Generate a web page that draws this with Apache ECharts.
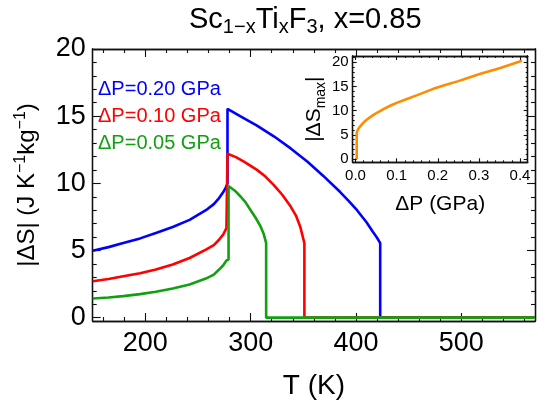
<!DOCTYPE html>
<html><head><meta charset="utf-8">
<script src="https://cdn.jsdelivr.net/npm/echarts@6/dist/echarts.min.js"></script>
<style>html,body{margin:0;padding:0;background:#fff}#c{width:539px;height:405px}</style>
</head><body><div id="c"></div>
<script>
const FONT = '"Liberation Sans", Arial, sans-serif';

// ---- tick labels ----
const T_ticks = [200, 300, 400, 500];
const S_ticks = [0, 5, 10, 15, 20];
const dP_ticks = [0, 0.1, 0.2, 0.3, 0.4];
const Smax_ticks = [0, 5, 10, 15, 20];

// ---- series: dP = 0.20 GPa (blue) ----
const T_020 = [150, 165, 179, 195, 210, 226, 242, 257.5, 265, 270, 274, 276.5, 278, 278, 290, 306, 322, 338, 354, 369, 385, 393, 401, 410, 416, 420, 423, 423, 570];
const S_020 = [4.98, 5.25, 5.55, 5.9, 6.3, 6.75, 7.28, 8.0, 8.45, 8.9, 9.35, 9.7, 10.0, 15.55, 15.0, 14.3, 13.5, 12.6, 11.6, 10.55, 9.35, 8.7, 8.0, 7.1, 6.4, 5.95, 5.55, 0, 0];

// ---- series: dP = 0.10 GPa (red) ----
const T_010 = [150, 165, 179, 195, 210, 226, 242, 257.5, 265, 270, 274, 277, 278, 278, 286, 294, 306, 314, 322, 330, 338, 343, 347, 351, 351, 570];
const S_010 = [2.71, 2.88, 3.08, 3.3, 3.58, 3.95, 4.44, 5.06, 5.4, 5.8, 6.2, 6.67, 6.8, 12.2, 11.95, 11.6, 11.0, 10.5, 9.87, 9.15, 8.27, 7.6, 6.79, 5.55, 0, 0];

// ---- series: dP = 0.05 GPa (green) ----
const T_005 = [150, 165, 179, 195, 210, 226, 242, 257.5, 265, 270, 274, 277, 279, 279, 285, 290.6, 295, 300, 305, 309.4, 312.5, 314.7, 314.7, 570];
const S_005 = [1.43, 1.5, 1.6, 1.75, 1.93, 2.17, 2.47, 2.91, 3.2, 3.58, 3.9, 4.25, 4.32, 9.8, 9.45, 9.0, 8.6, 8.0, 7.4, 6.79, 6.2, 5.55, 0, 0];

// ---- inset: |dS_max| vs dP ----
const dP_inset = [0.003, 0.003, 0.006, 0.011, 0.018, 0.027, 0.04, 0.052, 0.068, 0.084, 0.1, 0.125, 0.15, 0.189, 0.22, 0.25, 0.271, 0.3, 0.352, 0.405];
const Smax_inset = [0, 5.5, 6.1, 6.7, 7.4, 8.1, 8.9, 9.55, 10.3, 11.0, 11.6, 12.4, 13.2, 14.5, 15.35, 16.1, 16.7, 17.5, 18.8, 20.3];

// minor tick positions
const T_minor = []; for (let t = 160; t <= 560; t += 20) if (t % 100) T_minor.push(t);
const S_minor = []; for (let s = 1; s <= 19; s++) if (s % 5) S_minor.push(s);
const dP_minor = []; for (let i = 1; i <= 20; i++) if (i % 5) dP_minor.push(+(i * 0.02).toFixed(2));
const Smax_minor = []; for (let s = 1; s <= 21; s++) if (s % 5) Smax_minor.push(s);

const zip = (a, b) => a.map((v, i) => [v, b[i]]);
const AX = '#111';

function axis(grid, pos, min, max, ticks, len, labels, extra) {
  const o = {
    type: 'value', gridIndex: grid, position: pos, min: min, max: max,
    axisLine: { show: true, onZero: false, lineStyle: { color: AX, width: 1.3 } },
    axisTick: { show: true, inside: true, length: len, customValues: ticks, lineStyle: { color: AX, width: 1.1 } },
    axisLabel: labels ? Object.assign({ show: true, customValues: ticks, color: '#000', fontFamily: FONT }, labels) : { show: false },
    splitLine: { show: false }
  };
  return Object.assign(o, extra || {});
}

const chart = echarts.init(document.getElementById('c'));
const option = {
  animation: false,
  backgroundColor: '#fff',
  grid: [
    { left: 92.7, top: 49, width: 442.3, height: 272.7 },
    { left: 352.7, top: 56, width: 175, height: 106.3, show: true, backgroundColor: '#fff', borderWidth: 0 }
  ],
  xAxis: [
    axis(0, 'bottom', 150, 570, T_ticks, 8, { fontSize: 27, margin: 9 }, {
      name: 'T (K)', nameLocation: 'middle', nameGap: 51,
      nameTextStyle: { fontSize: 28, color: '#000', fontFamily: FONT }
    }),
    axis(0, 'bottom', 150, 570, T_minor, 4, null),
    axis(0, 'top', 150, 570, T_ticks, 8, null),
    axis(0, 'top', 150, 570, T_minor, 4, null),
    axis(1, 'bottom', -0.0068, 0.4187, dP_ticks, 4, { fontSize: 15, margin: 6, formatter: v => v.toFixed(1) }, {
      name: 'ΔP (GPa)', nameLocation: 'middle', nameGap: 31,
      nameTextStyle: { fontSize: 21, color: '#000', fontFamily: FONT }
    }),
    axis(1, 'bottom', -0.0068, 0.4187, dP_minor, 2, null),
    axis(1, 'top', -0.0068, 0.4187, dP_ticks, 4, null),
    axis(1, 'top', -0.0068, 0.4187, dP_minor, 2, null)
  ],
  yAxis: [
    axis(0, 'left', -0.25, 20, S_ticks, 8, { fontSize: 27, margin: 7 }, {
      name: '{n||ΔS| (J K}{p|−1}{n|kg}{p|−1}{n|)}', nameLocation: 'middle', nameGap: 50, nameRotate: 90,
      nameTextStyle: {
        rich: {
          n: { fontSize: 24, lineHeight: 30, verticalAlign: 'middle', color: '#000', fontFamily: FONT },
          p: { fontSize: 16, lineHeight: 15, verticalAlign: 'top', color: '#000', fontFamily: FONT }
        }
      }
    }),
    axis(0, 'left', -0.25, 20, S_minor, 4, null),
    axis(0, 'right', -0.25, 20, S_ticks, 8, null),
    axis(0, 'right', -0.25, 20, S_minor, 4, null),
    axis(1, 'left', -0.7, 21.3, Smax_ticks, 4, { fontSize: 15, margin: 4 }, {
      name: '{n||ΔS}{s|max}{n||}', nameLocation: 'middle', nameGap: 14, nameRotate: 90,
      nameTextStyle: {
        rich: {
          n: { fontSize: 21, lineHeight: 28, verticalAlign: 'middle', color: '#000', fontFamily: FONT },
          s: { fontSize: 14, lineHeight: 14, verticalAlign: 'bottom', color: '#000', fontFamily: FONT }
        }
      }
    }),
    axis(1, 'left', -0.7, 21.3, Smax_minor, 2, null),
    axis(1, 'right', -0.7, 21.3, Smax_ticks, 4, null),
    axis(1, 'right', -0.7, 21.3, Smax_minor, 2, null)
  ],
  graphic: [
    { type: 'text', left: 189, top: 5, style: {
        text: '{n|Sc}{s|1−x}{n|Ti}{s|x}{n|F}{s|3}{n|, x=0.85}',
        fill: '#000', fontSize: 29, fontFamily: FONT,
        rich: {
          n: { fontSize: 29, lineHeight: 36, verticalAlign: 'middle', fontFamily: FONT, fill: '#000' },
          s: { fontSize: 20, lineHeight: 20, verticalAlign: 'bottom', fontFamily: FONT, fill: '#000' }
        }
      } },
    { type: 'text', left: 98, top: 79, style: { text: 'ΔP=0.20 GPa', fill: '#0000ff', font: '20px ' + FONT } },
    { type: 'text', left: 98, top: 106, style: { text: 'ΔP=0.10 GPa', fill: '#ff0000', font: '20px ' + FONT } },
    { type: 'text', left: 98, top: 133, style: { text: 'ΔP=0.05 GPa', fill: '#12a012', font: '20px ' + FONT } }
  ],
  series: [
    { type: 'line', xAxisIndex: 0, yAxisIndex: 0, data: zip(T_020, S_020), showSymbol: false,
      lineStyle: { color: '#0000ff', width: 2.6 }, itemStyle: { color: '#0000ff' } },
    { type: 'line', xAxisIndex: 0, yAxisIndex: 0, data: zip(T_010, S_010), showSymbol: false,
      lineStyle: { color: '#ff0000', width: 2.6 }, itemStyle: { color: '#ff0000' } },
    { type: 'line', xAxisIndex: 0, yAxisIndex: 0, data: zip(T_005, S_005), showSymbol: false,
      lineStyle: { color: '#12a012', width: 2.6 }, itemStyle: { color: '#12a012' } },
    { type: 'line', xAxisIndex: 4, yAxisIndex: 4, data: zip(dP_inset, Smax_inset), showSymbol: false,
      lineStyle: { color: '#ff8c00', width: 2.6 }, itemStyle: { color: '#ff8c00' } }
  ]
};
chart.setOption(option);
</script>
</body></html>
